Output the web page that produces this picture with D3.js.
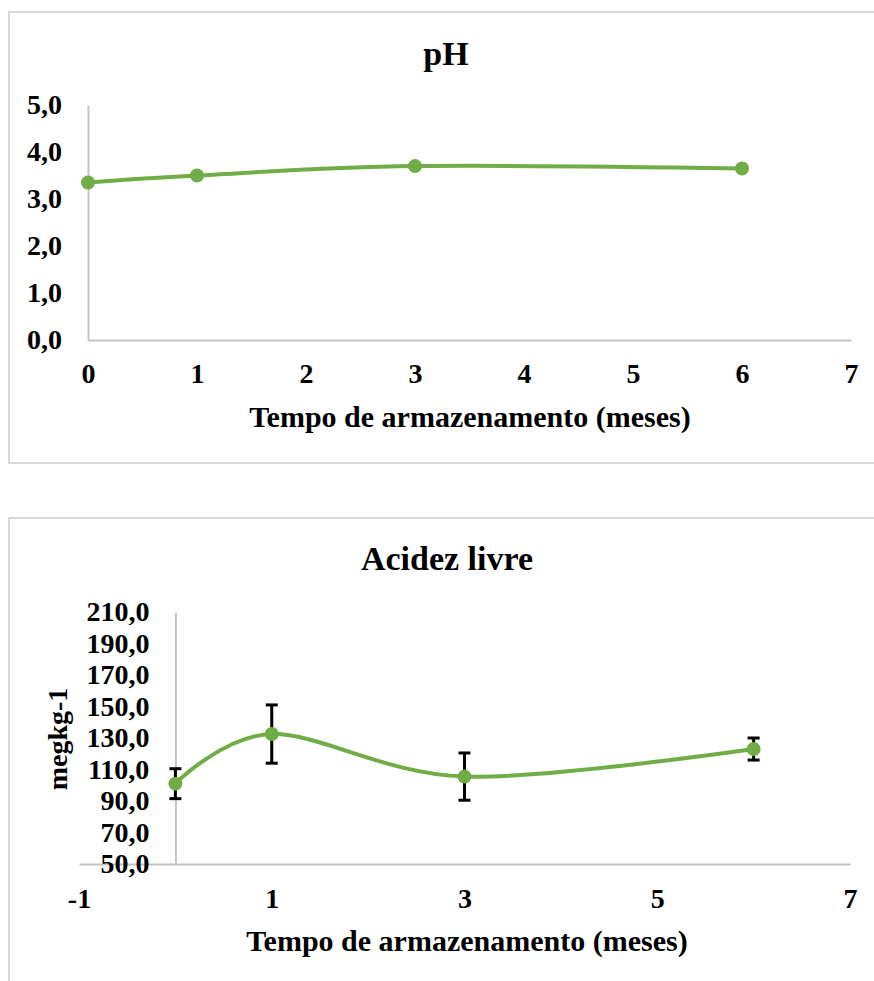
<!DOCTYPE html>
<html>
<head>
<meta charset="utf-8">
<script src="https://cdn.jsdelivr.net/npm/d3@7"></script>
<style>
  body { margin: 0; background: #ffffff; }
  svg text { font-family: "Liberation Serif", "Times New Roman", serif; font-weight: bold; fill: #000; }
</style>
</head>
<body>
<svg id="chart" width="874" height="981"></svg>
<script>

// pH
var phMonths = [0, 1, 3, 6]
var phValues = [3.35, 3.5, 3.7, 3.65]
var phXTicks = [0, 1, 2, 3, 4, 5, 6, 7]
var phYTicks = [0, 1, 2, 3, 4, 5]

// Acidez livre
var acidMonths = [0, 1, 3, 6]
var acidValues = [101, 132.5, 105.5, 123]
var acidErrors = [9.5, 18.5, 15, 7]
var acidXTicks = [-1, 1, 3, 5, 7]
var acidYTicks = [50, 70, 90, 110, 130, 150, 170, 190, 210]

var GREEN = "#70ad47"
var AXIS_GREY = "#c4c4c4"

var svg = d3.select("#chart")

function commaFormat(d) {
    return d.toFixed(1).replace(".", ",")
}

// plain hyphen for negatives, like the original
function intFormat(d) {
    return String(d)
}

function styleAxis(g) {
    g.select(".domain").attr("stroke", AXIS_GREY).attr("stroke-width", 2)
    g.selectAll(".tick line").remove()
    g.selectAll("text").attr("font-size", 28).attr("fill", "#000")
}

function drawPanel(opts) {

    //frame around the panel
    svg.append("rect")
        .attr("x", 9)
        .attr("y", opts.boxTop)
        .attr("width", 900)
        .attr("height", opts.boxHeight)
        .attr("fill", "none")
        .attr("stroke", "#d9d9d9")
        .attr("stroke-width", 2)

    svg.append("text")
        .attr("x", opts.titleX)
        .attr("y", opts.titleY)
        .attr("text-anchor", "middle")
        .attr("font-size", 34)
        .text(opts.title)

    var x = opts.x
    var y = opts.y

    var gx = svg.append("g")
        .attr("transform", "translate(0," + y.range()[0] + ")")
        .call(d3.axisBottom(x).tickValues(opts.xTicks).tickSize(0).tickFormat(intFormat))
    styleAxis(gx)
    gx.selectAll("text").attr("y", opts.xTickBaseline - y.range()[0]).attr("dy", null)

    var gy = svg.append("g")
        .attr("transform", "translate(" + x(opts.yAxisAt) + ",0)")
        .call(d3.axisLeft(y).tickValues(opts.yTicks).tickSize(0).tickPadding(26).tickFormat(commaFormat))
    styleAxis(gy)
    gy.selectAll("text").attr("dy", "0.32em")

    svg.append("text")
        .attr("x", opts.xLabelX)
        .attr("y", opts.xLabelY)
        .attr("text-anchor", "middle")
        .attr("font-size", 30)
        .text("Tempo de armazenamento (meses)")

    if (opts.yLabel) {
        svg.append("text")
            .attr("transform", "translate(" + opts.yLabelX + "," + opts.yLabelY + ") rotate(-90)")
            .attr("text-anchor", "middle")
            .attr("font-size", 28)
            .text(opts.yLabel)
    }

    var pts = opts.months.map(function(m, i) {
        return { m: m, v: opts.values[i], e: opts.errors ? opts.errors[i] : null }
    })

    //error bars go under the line and markers
    if (opts.errors) {
        var eb = svg.append("g").attr("stroke", "#000").attr("stroke-width", 3)
        pts.forEach(function(d) {
            var cx = x(d.m)
            eb.append("line")
                .attr("x1", cx).attr("x2", cx)
                .attr("y1", y(d.v - d.e)).attr("y2", y(d.v + d.e))
            eb.append("line")
                .attr("x1", cx - 6).attr("x2", cx + 6)
                .attr("y1", y(d.v - d.e)).attr("y2", y(d.v - d.e))
            eb.append("line")
                .attr("x1", cx - 6).attr("x2", cx + 6)
                .attr("y1", y(d.v + d.e)).attr("y2", y(d.v + d.e))
        })
    }

    var line = d3.line()
        .x(function(d) { return x(d.m) })
        .y(function(d) { return y(d.v) })
        .curve(d3.curveCardinal.tension(0))

    svg.append("path")
        .datum(pts)
        .attr("d", line)
        .attr("fill", "none")
        .attr("stroke", GREEN)
        .attr("stroke-width", 4)

    svg.append("g").selectAll("circle")
        .data(pts)
        .enter()
        .append("circle")
        .attr("cx", function(d) { return x(d.m) })
        .attr("cy", function(d) { return y(d.v) })
        .attr("r", 7)
        .attr("fill", GREEN)
}

drawPanel({
    boxTop: 12,
    boxHeight: 451,
    title: "pH",
    titleX: 446,
    titleY: 65,
    x: d3.scaleLinear().domain([0, 7]).range([88, 851]),
    y: d3.scaleLinear().domain([0, 5]).range([340, 105]),
    xTicks: phXTicks,
    yTicks: phYTicks,
    yAxisAt: 0,
    xTickBaseline: 383,
    xLabelX: 470,
    xLabelY: 427,
    months: phMonths,
    values: phValues
})

drawPanel({
    boxTop: 518,
    boxHeight: 500,
    title: "Acidez livre",
    titleX: 447,
    titleY: 570,
    x: d3.scaleLinear().domain([-1, 7]).range([79, 850]),
    y: d3.scaleLinear().domain([50, 210]).range([864, 612]),
    xTicks: acidXTicks,
    yTicks: acidYTicks,
    yAxisAt: 0,
    xTickBaseline: 908,
    xLabelX: 467,
    xLabelY: 951,
    yLabel: "megkg-1",
    yLabelX: 67,
    yLabelY: 739,
    months: acidMonths,
    values: acidValues,
    errors: acidErrors
})

</script>
</body>
</html>
